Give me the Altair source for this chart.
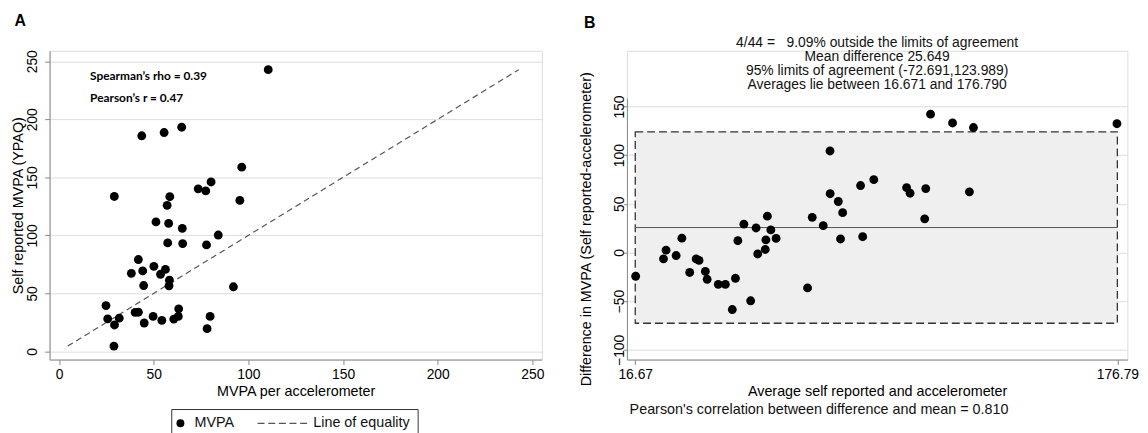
import altair as alt
import pandas as pd

FONT = "Liberation Sans"

# ---------------- Panel A data ----------------
accel_mvpa = [43.7, 55.5, 64.8, 29.2, 58.5, 57.1, 73.5, 77.5, 80.3, 51.2, 57.9,
              65.1, 84.1, 110.5, 96.5, 95.5, 57.4, 65.3, 77.9, 41.9, 38.2, 44.2,
              50.1, 53.6, 56.2, 58.3, 58.1, 44.7, 24.8, 25.7, 31.8, 29.3, 29.0,
              40.2, 41.9, 45.0, 49.7, 54.3, 60.6, 63.0, 63.2, 78.2, 79.8, 92.1]
ypaq_mvpa = [185.8, 188.6, 193.2, 133.5, 133.3, 125.9, 140.1, 138.4, 146.0, 111.6, 110.3,
             106.0, 100.3, 242.8, 158.8, 130.1, 93.5, 92.9, 91.8, 79.2, 67.3, 69.4,
             73.3, 66.5, 70.7, 61.4, 56.6, 56.8, 39.5, 28.1, 28.7, 22.8, 4.6,
             33.6, 33.8, 24.5, 30.2, 26.8, 27.9, 30.2, 36.7, 19.6, 30.2, 55.7]
equality_ends = [4.6, 242.8]
ticks_a = [0, 50, 100, 150, 200, 250]
ann_x = [16.4, 16.4]
ann_y = [237.2, 218.7]
ann_text = ["Spearman\u2019s rho = 0.39", "Pearson\u2019s r = 0.47"]
legend_labels = ["MVPA", "Line of equality"]

# ---------------- Panel B statistics (from the picture) ----------------
mean_diff = 25.649
loa_low = -72.691
loa_high = 123.989
avg_min = 16.671
avg_max = 176.790
ticks_b_x = [avg_min, avg_max]
ticks_b_y = [-100, -50, 0, 50, 100, 150]
stats_lines = ["4/44 =\u00a0\u00a0 9.09% outside the limits of agreement",
               "Mean difference 25.649",
               "95% limits of agreement (-72.691,123.989)",
               "Averages lie between 16.671 and 176.790"]
corr_note = ["Pearson's correlation between difference and mean = 0.810"]

df = pd.DataFrame({"accel": accel_mvpa, "ypaq": ypaq_mvpa, "series": "MVPA"})
df_eq = pd.DataFrame({"v": equality_ends})
df_ann = pd.DataFrame({"x": ann_x, "y": ann_y, "t": ann_text})

# legend symbol for the dashed line (five short filled dashes)
dash_path = "".join(
    "M{:.4f},-0.16h1.75v0.32h-1.75z".format(-10.5 + i * 2.6875) for i in range(5)
)

H = 312  # common view height (both x axes sit on the same baseline)

# ---------------- Panel A ----------------
WA = 497.5
xs_a = alt.Scale(domain=[-5, 255], nice=False, zero=False)
ys_a = alt.Scale(domain=[-7, 259], nice=False, zero=False)
xax_a = alt.Axis(values=ticks_a, title="MVPA per accelerometer", grid=False, tickSize=5,
                 labelPadding=3, titlePadding=3.5, labelFontSize=14, titleFontSize=14.5,
                 titleFontWeight="normal", labelFlush=False)
yax_a = alt.Axis(values=ticks_a, title="Self reported MVPA (YPAQ)", grid=True, tickSize=5,
                 labelAngle=270, labelAlign="center", labelBaseline="alphabetic",
                 labelPadding=7.8, titlePadding=1, labelFontSize=14, titleFontSize=14.5,
                 titleFontWeight="normal")

leg = alt.Legend(title=None, orient="none", legendX=123, legendY=362, direction="horizontal",
                 strokeColor="#333333", padding=7, labelFont=FONT, labelFontSize=14.5,
                 labelColor="#111111", symbolSize=64, symbolOffset=-5, labelOffset=7,
                 columnPadding=23, symbolStrokeWidth=0)
shape_scale = alt.Scale(domain=legend_labels, range=["circle", dash_path])
color_scale = alt.Scale(domain=legend_labels, range=["#000000", "#555555"])

eq_line = alt.Chart(df_eq).mark_line(color="#555555", strokeDash=[6, 4], strokeWidth=1.2).encode(
    x=alt.X("v:Q", scale=xs_a, axis=xax_a),
    y=alt.Y("v:Q", scale=ys_a, axis=yax_a),
)
pts_a = alt.Chart(df).mark_point(filled=True, size=80, opacity=1).encode(
    x=alt.X("accel:Q", scale=xs_a, axis=xax_a),
    y=alt.Y("ypaq:Q", scale=ys_a, axis=yax_a),
    color=alt.Color("series:N", scale=color_scale, legend=leg),
    shape=alt.Shape("series:N", scale=shape_scale, legend=leg),
)
ann_a = alt.Chart(df_ann).mark_text(align="left", baseline="middle", font="Lato",
                                    fontWeight="bold", fontSize=12, color="#000000").encode(
    x=alt.X("x:Q", scale=xs_a, axis=xax_a),
    y=alt.Y("y:Q", scale=ys_a, axis=yax_a),
    text="t:N",
)
letter_a = alt.Chart(pd.DataFrame({"t": ["A"]})).mark_text(
    align="left", baseline="top", font=FONT, fontWeight="bold", fontSize=16, color="#000000"
).encode(x=alt.value(-35.5), y=alt.value(-38), text="t:N")

panel_a = alt.layer(eq_line, pts_a, ann_a, letter_a).properties(width=WA, height=H)

# ---------------- Panel B ----------------
WB = 505.7
xs_b = alt.Scale(domain=[13.91, 180.1], nice=False, zero=False)
ys_b = alt.Scale(domain=[-110, 158.7], nice=False, zero=False, range=[H, 47.7])
xax_b = alt.Axis(values=ticks_b_x, format=".2f", title="Average self reported and accelerometer",
                 grid=False, tickSize=5, labelPadding=3, titlePadding=3.5, labelFontSize=14,
                 titleFontSize=14.5, titleFontWeight="normal", labelFlush=False)
yax_b = alt.Axis(values=ticks_b_y, title="Difference in MVPA (Self reported-accelerometer)",
                 grid=True, tickSize=3.3, labelAngle=270, labelAlign="center",
                 labelBaseline="alphabetic", labelPadding=0, titlePadding=20,
                 labelFontSize=14, titleFontSize=14.5, titleFontWeight="normal")

df_band = pd.DataFrame({"x1": [avg_min], "x2": [avg_max], "y1": [loa_low], "y2": [loa_high]})
df_mean = pd.DataFrame({"x1": [avg_min], "x2": [avg_max], "y": [mean_diff]})

band = alt.Chart(df_band).mark_rect(fill="#efefef", stroke="#333333", strokeDash=[8, 4],
                                    strokeWidth=1.3).encode(
    x=alt.X("x1:Q", scale=xs_b, axis=xax_b), x2="x2:Q",
    y=alt.Y("y1:Q", scale=ys_b, axis=yax_b), y2="y2:Q",
)
mean_rule = alt.Chart(df_mean).mark_rule(color="#555555", strokeWidth=1).encode(
    x=alt.X("x1:Q", scale=xs_b, axis=xax_b), x2="x2:Q",
    y=alt.Y("y:Q", scale=ys_b, axis=yax_b),
)
pts_b = alt.Chart(df).transform_calculate(
    avg="(datum.accel + datum.ypaq) / 2", diff="datum.ypaq - datum.accel"
).mark_point(filled=True, size=80, opacity=1, color="#000000").encode(
    x=alt.X("avg:Q", scale=xs_b, axis=xax_b),
    y=alt.Y("diff:Q", scale=ys_b, axis=yax_b),
)
stats_b = alt.Chart(pd.DataFrame({"t": ["\n".join(stats_lines)]})).mark_text(
    align="center", baseline="top", font=FONT, fontSize=14, lineHeight=14,
    lineBreak="\n", color="#111111"
).encode(x=alt.value(WB / 2), y=alt.value(-14.5), text="t:N")
note_b = alt.Chart(pd.DataFrame({"t": corr_note})).mark_text(
    align="left", baseline="middle", font=FONT, fontSize=14.5, color="#111111"
).encode(x=alt.value(2.7), y=alt.value(363), text="t:N")
letter_b = alt.Chart(pd.DataFrame({"t": ["B"]})).mark_text(
    align="left", baseline="top", font=FONT, fontWeight="bold", fontSize=16, color="#000000"
).encode(x=alt.value(-43.3), y=alt.value(-35.9), text="t:N")

panel_b = alt.layer(band, mean_rule, pts_b, stats_b, note_b, letter_b).properties(
    width=WB, height=H
)

chart = alt.hconcat(panel_a, panel_b, spacing=32.5).properties(
    padding={"left": 1, "top": 2, "right": 0, "bottom": 0}
).configure_view(stroke=None).configure_axis(
    labelFont=FONT, titleFont=FONT, titleFontWeight="normal", labelColor="#111111",
    titleColor="#111111", domainColor="#555555", tickColor="#555555", gridColor="#e8e8e8",
    domainWidth=1.2,
).configure(background="white")

chart.save("out.html", embed_options={"renderer": "svg", "actions": False})
